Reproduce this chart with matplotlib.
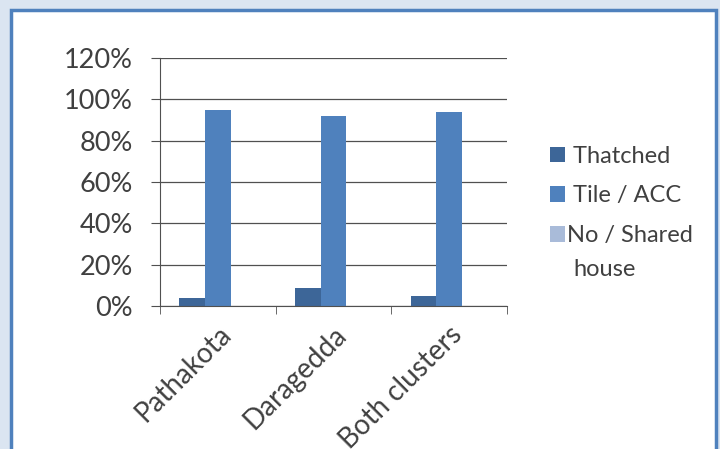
import numpy as np
import matplotlib.pyplot as plt
import matplotlib.transforms as mtransforms
from matplotlib.patches import Rectangle

plt.rcParams["font.family"] = ["Lato", "DejaVu Sans"]

categories = ["Pathakota", "Daragedda", "Both clusters"]
thatched = [4, 8.5, 5]
tile_acc = [95, 92, 94]
no_shared = [0, 0, 0]
y_ticks = [0, 20, 40, 60, 80, 100, 120]

fig = plt.figure(figsize=(7.2, 4.49), dpi=100)
fig.patch.set_facecolor("#dbe5f1")

# white panel with blue border behind the chart
bg = fig.add_axes([0, 0, 1, 1], zorder=-5)
bg.set_axis_off()
bg.set_xlim(0, 720)
bg.set_ylim(449, 0)
bg.add_patch(
    Rectangle(
        (11, 10),
        716 - 11,
        470,
        facecolor="white",
        edgecolor="#4f81bd",
        lw=2.5,
    )
)

ax = fig.add_axes([160 / 720, 1 - 306 / 449, (507 - 160) / 720, (306 - 58) / 449])
ax.set_facecolor("none")
x = np.arange(len(categories))
w = 0.222
series = [
    (" Thatched", thatched, "#3d6698"),
    (" Tile / ACC", tile_acc, "#4f81bd"),
    ("No / Shared", no_shared, "#a9bbd9"),
]
for i, (name, vals, col) in enumerate(series):
    ax.bar(x + (i - 1) * w, vals, width=w, color=col, label=name, zorder=2)

ax.set_xlim(-0.5, 2.5)
ax.set_ylim(0, 120)
ax.set_yticks(y_ticks)
ax.set_yticklabels([f"{v}%" for v in y_ticks], fontsize=19.5, color="#404040")
ax.yaxis.grid(True, color="#505050", lw=0.9)
ax.set_axisbelow(True)
ax.set_xticks(x)
ax.set_xticklabels(
    categories,
    rotation=45,
    ha="right",
    rotation_mode="anchor",
    fontsize=20,
    color="#404040",
)
shift = mtransforms.ScaledTranslation(-0.05, 0, fig.dpi_scale_trans)
for lbl in ax.get_xticklabels():
    lbl.set_transform(lbl.get_transform() + shift)
ax.set_xticks([-0.5, 0.5, 1.5, 2.5], minor=True)
ax.tick_params(axis="x", which="major", length=0, pad=11)
ax.tick_params(axis="x", which="minor", length=6, direction="out", color="#505050")
ax.tick_params(axis="y", length=6.5, color="#505050", pad=13)
for s in ["top", "right"]:
    ax.spines[s].set_visible(False)
ax.spines["left"].set_color("#505050")
ax.spines["bottom"].set_color("#505050")

leg = fig.legend(
    *ax.get_legend_handles_labels(),
    loc="center left",
    bbox_to_anchor=(550 / 720, 1 - 196 / 449),
    bbox_transform=fig.transFigure,
    frameon=False,
    fontsize=17,
    borderpad=0,
    borderaxespad=0,
    handlelength=0.64,
    handleheight=0.64,
    handletextpad=0.1,
    labelspacing=0.8,
)
for t in leg.get_texts():
    t.set_color("#404040")
# second line of the wrapped legend label
fig.text(573 / 720, 1 - 270 / 449, "house", fontsize=17, color="#404040", va="center")

fig.savefig("out.png", dpi=100)
